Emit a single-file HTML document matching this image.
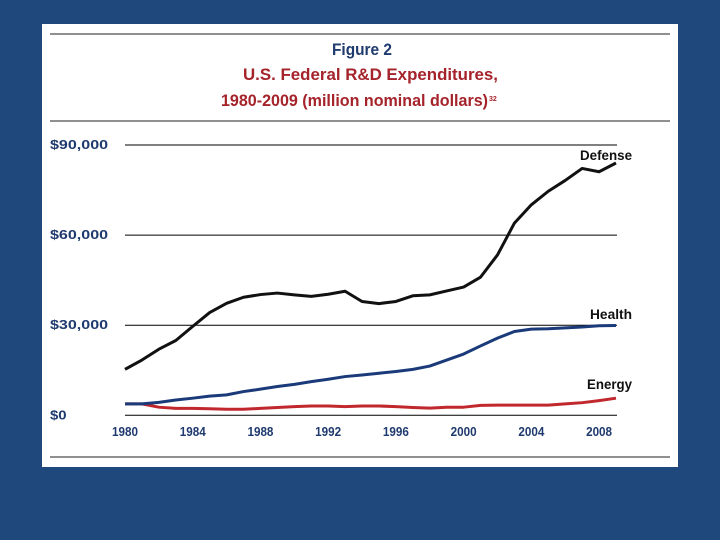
<!DOCTYPE html>
<html><head><meta charset="utf-8"><style>
body{margin:0;width:720px;height:540px;background:#1f497d;overflow:hidden}
svg{display:block}
text{font-family:"Liberation Sans",sans-serif;font-weight:bold}
</style></head><body>
<svg width="720" height="540">
<rect x="42" y="24" width="636" height="443" fill="#fff"/>
<line x1="50" x2="670" y1="34" y2="34" stroke="#222" stroke-width="1"/>
<line x1="50" x2="670" y1="121" y2="121" stroke="#222" stroke-width="1"/>
<line x1="50" x2="670" y1="457" y2="457" stroke="#222" stroke-width="1"/>
<text x="332" y="55" textLength="60" lengthAdjust="spacingAndGlyphs" font-size="17" fill="#1f3a6e">Figure 2</text>
<text x="243" y="80" textLength="255" lengthAdjust="spacingAndGlyphs" font-size="17" fill="#a5232a">U.S. Federal R&amp;D Expenditures,</text>
<text x="221" y="106" textLength="267" lengthAdjust="spacingAndGlyphs" font-size="17" fill="#a5232a">1980-2009 (million nominal dollars)</text>
<text x="489" y="101" font-size="7" fill="#a5232a">32</text>
<g id="grid"></g><g id="ylab"></g><g id="xlab"></g><g id="series"></g>
</svg>
<script>
const years=[];for(let y=1980;y<=2009;y++)years.push(y);
const defense=[15300,18400,22000,24900,29600,34200,37300,39300,40200,40700,40100,39600,40300,41300,37900,37200,37900,39800,40100,41400,42700,46000,53400,64000,70100,74600,78200,82200,81100,84000];
const health=[3800,3800,4300,5100,5700,6400,6800,7900,8700,9600,10300,11200,12000,12900,13400,14000,14600,15300,16400,18400,20400,23100,25700,27900,28700,28800,29100,29400,29800,29900];
const energy=[3800,3800,2700,2300,2300,2200,2000,2000,2300,2600,2900,3100,3100,2900,3100,3100,2900,2600,2400,2700,2700,3300,3400,3400,3400,3400,3800,4200,4900,5700];
const yTicks=[0,30000,60000,90000];
const yTickLabels=["$0","$30,000","$60,000","$90,000"];
const xTicks=[1980,1984,1988,1992,1996,2000,2004,2008];
const NS="http://www.w3.org/2000/svg";
const X=v=>125+(v-1980)*(616-125)/29;
const Y=v=>415.3-v*(415.3-145)/90000;
function mk(t,a,p){const e=document.createElementNS(NS,t);for(const k in a)e.setAttribute(k,a[k]);p.appendChild(e);return e;}
const g=document.getElementById('grid'),yl=document.getElementById('ylab'),xl=document.getElementById('xlab'),s=document.getElementById('series');
yTicks.forEach((v,i)=>{
 const l=mk('line',{x1:125,x2:617,y1:Y(v),y2:Y(v),stroke:'#000','stroke-width':1},g);
 
 
 const lab=yTickLabels[i];
 const t=mk('text',{x:50,y:Y(v)+4,'font-size':13,fill:'#1f3a6e',textLength:lab.length*8.3,lengthAdjust:'spacingAndGlyphs'},yl);t.textContent=lab;
 
 
});
xTicks.forEach(v=>{
 const t=mk('text',{x:X(v)-13,y:436,'font-size':13,fill:'#1f3a6e',textLength:26,lengthAdjust:'spacingAndGlyphs'},xl);t.textContent=v;
 
 
});
function line(data,color,name){
 const p=mk('polyline',{points:data.map((v,i)=>X(years[i])+','+Y(v)).join(' '),fill:'none',stroke:color,'stroke-width':3,'stroke-linejoin':'round'},s);
 
 
}
line(energy,'#c0282d','energy-line');
line(health,'#1a3a7a','health-line');
line(defense,'#111','defense-line');
[['Defense',160,580,52],['Health',319,590,42],['Energy',389,587,45]].forEach(([n,y,x,w])=>{
 const t=mk('text',{x:x,y:y,'font-size':14,fill:'#111',textLength:w,lengthAdjust:'spacingAndGlyphs'},s);t.textContent=n;
 
 
});
</script>
</body></html>
